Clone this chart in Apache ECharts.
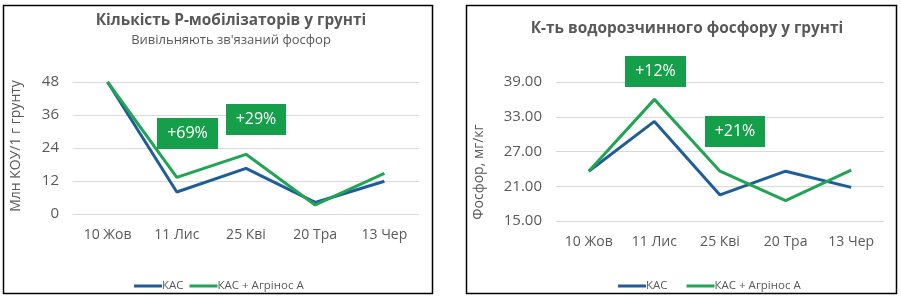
<!DOCTYPE html>
<html><head><meta charset="utf-8">
<script src="https://cdn.jsdelivr.net/npm/echarts@6/dist/echarts.min.js"></script>
<style>html,body{margin:0;padding:0;background:#fff}#c{width:901px;height:298px}</style>
</head><body><div id="c"></div>
<script>
const categories = ['10 Жов', '11 Лис', '25 Кві', '20 Тра', '13 Чер'];
const seriesNames = ['КАС', 'КАС + Агрінос А'];
// Left chart: P-mobilizers, mln CFU / 1 g soil
const mobKAS = [48, 8, 16.6, 4.2, 11.9];
const mobAgr = [48, 13.3, 21.7, 3.3, 14.8];
const mobTicks = [0, 12, 24, 36, 48];
// Right chart: water-soluble phosphorus, mg/kg
const phKAS = [23.6, 32.2, 19.5, 23.6, 20.8];
const phAgr = [23.6, 36.0, 23.6, 18.5, 23.8];
const phTicks = [15, 21, 27, 33, 39];
const leftNotes = ['+69%', '+29%'];
const rightNotes = ['+12%', '+21%'];

const FONT = '"Open Sans", "Noto Sans", sans-serif';
const BLUE = '#1f5d99';
const GREEN = '#22a455';
const NOTE = '#169f4b';
const GRAY = '#595959';

const chart = echarts.init(document.getElementById('c'), null, {renderer: 'canvas'});

function note(text, x, y, w, h) {
  return {type: 'group', left: x, top: y, z: 100, children: [
    {type: 'rect', z: 100, shape: {x: 0, y: 0, width: w, height: h}, style: {fill: NOTE}},
    {type: 'text', z: 101, style: {x: w / 2, y: h / 2, text: text, fill: '#fff', font: '16px ' + FONT, textAlign: 'center', textVerticalAlign: 'middle'}}
  ]};
}

const xAxisCommon = {
  type: 'category', data: categories, boundaryGap: true,
  axisLine: {show: false}, axisTick: {show: false},
  axisLabel: {color: GRAY, fontSize: 14, fontFamily: FONT, margin: 14}
};
function yAxisCommon(ticks, fmt) {
  return {
    type: 'value', min: ticks[0], max: ticks[ticks.length - 1], interval: ticks[1] - ticks[0],
    axisLine: {show: false}, axisTick: {show: false},
    splitLine: {lineStyle: {color: '#d9d9d9', width: 1}},
    axisLabel: {color: GRAY, fontSize: 15, fontFamily: FONT, margin: 14, formatter: fmt}
  };
}
function line(name, data, color, idx) {
  return {name: name, type: 'line', data: data, xAxisIndex: idx, yAxisIndex: idx,
    symbol: 'none', clip: false, lineStyle: {color: color, width: 3}, itemStyle: {color: color}};
}

chart.setOption({
  animation: false,
  title: [
    {text: 'Кількість Р-мобілізаторів у грунті', subtext: 'Вивільняють зв\'язаний фосфор',
     left: 226, textAlign: 'center', top: 8, itemGap: 6,
     textStyle: {fontSize: 15.4, fontWeight: 'bold', color: GRAY, fontFamily: FONT},
     subtextStyle: {fontSize: 13, color: GRAY, fontFamily: FONT}},
    {text: 'К-ть водорозчинного фосфору у грунті', left: 682, textAlign: 'center', top: 16,
     textStyle: {fontSize: 15.4, fontWeight: 'bold', color: GRAY, fontFamily: FONT}}
  ],
  legend: [
    {data: seriesNames, left: 129, top: 275, icon: 'rect', itemWidth: 28, itemHeight: 3, itemGap: 6,
     textStyle: {fontSize: 11.5, color: GRAY, fontFamily: FONT, padding: [0, 0, 0, -5]}},
    {data: seriesNames, left: 613, top: 275, icon: 'rect', itemWidth: 28, itemHeight: 3, itemGap: 19,
     textStyle: {fontSize: 11.5, color: GRAY, fontFamily: FONT, padding: [0, 0, 0, -5]}}
  ],
  grid: [
    {left: 73, right: 482, top: 82, bottom: 84},
    {left: 556, right: 17, top: 82, bottom: 77}
  ],
  xAxis: [Object.assign({gridIndex: 0}, xAxisCommon), Object.assign({gridIndex: 1}, xAxisCommon)],
  yAxis: [
    Object.assign({gridIndex: 0}, yAxisCommon(mobTicks, v => String(v))),
    Object.assign({gridIndex: 1}, yAxisCommon(phTicks, v => v.toFixed(2)))
  ],
  series: [
    line(seriesNames[0], mobKAS, BLUE, 0),
    line(seriesNames[1], mobAgr, GREEN, 0),
    line(seriesNames[0], phKAS, BLUE, 1),
    line(seriesNames[1], phAgr, GREEN, 1)
  ],
  graphic: [
    {type: 'rect', shape: {x: 3.5, y: 5.5, width: 429, height: 288}, style: {fill: 'none', stroke: '#000', lineWidth: 1.5}, z: 100},
    {type: 'rect', shape: {x: 466.5, y: 5.5, width: 430, height: 288}, style: {fill: 'none', stroke: '#000', lineWidth: 1.5}, z: 100},
    {type: 'text', x: 16, y: 146, rotation: Math.PI / 2,
     style: {text: 'Млн КОУ/1 г грунту', fill: GRAY, font: '14px ' + FONT, textAlign: 'center', textVerticalAlign: 'middle'}},
    {type: 'text', x: 479, y: 172, rotation: Math.PI / 2,
     style: {text: 'Фосфор, мг/кг', fill: GRAY, font: '14px ' + FONT, textAlign: 'center', textVerticalAlign: 'middle'}},
    note(leftNotes[0], 157, 118, 61, 31),
    note(leftNotes[1], 226, 104, 60, 31),
    note(rightNotes[0], 625, 56, 61, 31),
    note(rightNotes[1], 705, 116, 60, 31)
  ]
});
</script></body></html>
